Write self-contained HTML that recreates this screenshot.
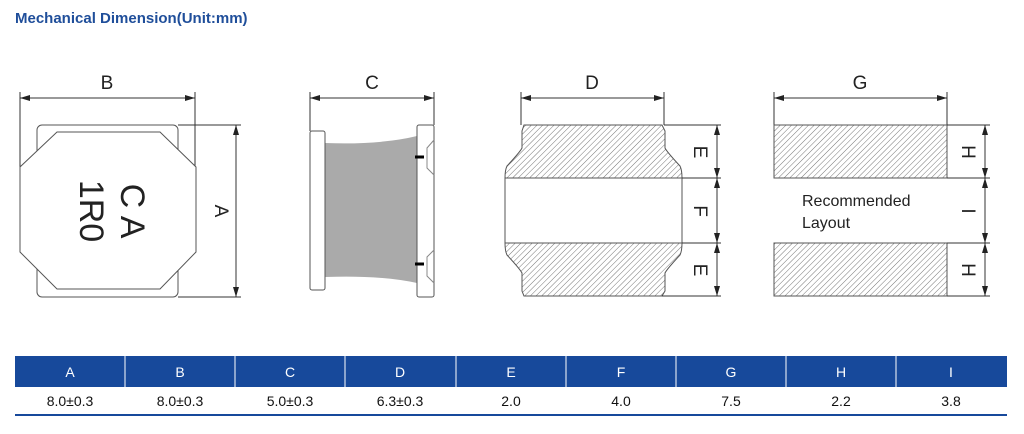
<!DOCTYPE html>
<html><head><meta charset="utf-8"><style>
body{margin:0;width:1024px;height:429px;background:#fff;overflow:hidden;font-family:"Liberation Sans",sans-serif}
</style></head><body>
<svg width="1024" height="429" viewBox="0 0 1024 429" xmlns="http://www.w3.org/2000/svg" font-family="Liberation Sans, sans-serif">
<defs>
<pattern id="h" width="4" height="4" patternUnits="userSpaceOnUse" patternTransform="rotate(45)">
<rect width="4" height="4" fill="#fff"/><line x1="0" y1="0" x2="0" y2="4" stroke="#777" stroke-width="1"/>
</pattern>
<marker id="a" viewBox="0 0 10 6" refX="10" refY="3" markerWidth="10" markerHeight="6" orient="auto-start-reverse" markerUnits="userSpaceOnUse"><path d="M0,0L10,3L0,6z" fill="#222"/></marker>
</defs>
<text x="15" y="23" font-size="15" font-weight="bold" fill="#1f4e9a">Mechanical Dimension(Unit:mm)</text>
<g stroke="#333" stroke-width="1" fill="none">
<line x1="20" y1="92" x2="20" y2="168"/><line x1="195" y1="92" x2="195" y2="168"/>
<line x1="20" y1="98" x2="195" y2="98" marker-start="url(#a)" marker-end="url(#a)"/>
<rect x="37" y="125" width="141" height="172" rx="5" stroke="#555"/>
<path d="M57,132H160L196,167V252L160,289H57L20,252V167Z" fill="#fff" stroke="#555"/>
<line x1="178" y1="125" x2="241" y2="125"/><line x1="178" y1="297" x2="241" y2="297"/>
<line x1="236" y1="125" x2="236" y2="297" marker-start="url(#a)" marker-end="url(#a)"/>
<line x1="310" y1="92" x2="310" y2="131"/><line x1="434" y1="92" x2="434" y2="125"/>
<line x1="310" y1="98" x2="434" y2="98" marker-start="url(#a)" marker-end="url(#a)"/>
<path d="M325,143Q380,145 417,136V283Q380,275 325,277Z" fill="#aaa" stroke="none"/>
<rect x="310" y="131" width="15" height="159" rx="2" fill="#fff" stroke="#555"/>
<rect x="417" y="125" width="17" height="172" rx="2" fill="#fff" stroke="#555"/>
<path d="M434,140L427,148V168L434,175" stroke="#888"/><path d="M434,250L427,257V276L434,283" stroke="#888"/>
<line x1="415" y1="157" x2="424" y2="157" stroke="#000" stroke-width="3"/>
<line x1="415" y1="264" x2="424" y2="264" stroke="#000" stroke-width="3"/>
<line x1="521" y1="92" x2="521" y2="125"/><line x1="664" y1="92" x2="664" y2="125"/>
<line x1="521" y1="98" x2="664" y2="98" marker-start="url(#a)" marker-end="url(#a)"/>
<path d="M524,125H662L665,131V148Q667,152 680,166Q682,170 682,178H505Q505,170 507,166Q520,152 522,148V131Z" fill="url(#h)" stroke="#555"/>
<rect x="505" y="178" width="177" height="65" fill="#fff" stroke="#555"/>
<path d="M505,243H682Q682,251 680,255Q667,269 665,273V291L662,296H524L522,291V273Q520,269 507,255Q505,251 505,243Z" fill="url(#h)" stroke="#555"/>
<line x1="664" y1="125" x2="721" y2="125"/><line x1="682" y1="178" x2="721" y2="178"/>
<line x1="682" y1="243" x2="721" y2="243"/><line x1="662" y1="296" x2="721" y2="296"/>
<line x1="717" y1="125" x2="717" y2="178" marker-start="url(#a)" marker-end="url(#a)"/>
<line x1="717" y1="178" x2="717" y2="243" marker-start="url(#a)" marker-end="url(#a)"/>
<line x1="717" y1="243" x2="717" y2="296" marker-start="url(#a)" marker-end="url(#a)"/>
<line x1="774" y1="92" x2="774" y2="125"/><line x1="947" y1="92" x2="947" y2="125"/>
<line x1="774" y1="98" x2="947" y2="98" marker-start="url(#a)" marker-end="url(#a)"/>
<rect x="774" y="125" width="173" height="53" fill="url(#h)" stroke="#555"/>
<rect x="774" y="243" width="173" height="53" fill="url(#h)" stroke="#555"/>
<line x1="947" y1="125" x2="990" y2="125"/><line x1="947" y1="178" x2="990" y2="178"/>
<line x1="947" y1="243" x2="990" y2="243"/><line x1="947" y1="296" x2="990" y2="296"/>
<line x1="985" y1="125" x2="985" y2="178" marker-start="url(#a)" marker-end="url(#a)"/>
<line x1="985" y1="178" x2="985" y2="243" marker-start="url(#a)" marker-end="url(#a)"/>
<line x1="985" y1="243" x2="985" y2="296" marker-start="url(#a)" marker-end="url(#a)"/>
</g>
<g fill="#222" font-size="19" text-anchor="middle">
<text x="107" y="89">B</text><text x="372" y="89">C</text><text x="592" y="89">D</text><text x="860" y="89">G</text>
<text transform="translate(215,211) rotate(90)">A</text>
<text transform="translate(694,152) rotate(90)">E</text>
<text transform="translate(694,211) rotate(90)">F</text>
<text transform="translate(694,270) rotate(90)">E</text>
<text transform="translate(962,152) rotate(90)">H</text>
<text transform="translate(962,211) rotate(90)">I</text>
<text transform="translate(962,270) rotate(90)">H</text>
<text transform="translate(121,211) rotate(90)" font-size="34">C A</text>
<text transform="translate(80,211) rotate(90)" font-size="34">1R0</text>
</g>
<text x="802" y="206" font-size="16" fill="#222">Recommended</text>
<text x="802" y="228" font-size="16" fill="#222">Layout</text>
<rect x="15" y="356" width="992" height="31" fill="#17499b"/>
<g stroke="#fff" stroke-width="1">
<line x1="125" y1="356" x2="125" y2="387"/><line x1="235" y1="356" x2="235" y2="387"/><line x1="345" y1="356" x2="345" y2="387"/><line x1="456" y1="356" x2="456" y2="387"/><line x1="566" y1="356" x2="566" y2="387"/><line x1="676" y1="356" x2="676" y2="387"/><line x1="786" y1="356" x2="786" y2="387"/><line x1="896" y1="356" x2="896" y2="387"/>
</g>
<rect x="15" y="414" width="992" height="2" fill="#17499b"/>
<g font-size="14" text-anchor="middle">
<g fill="#fff"><text x="70" y="377">A</text><text x="180" y="377">B</text><text x="290" y="377">C</text><text x="400" y="377">D</text><text x="511" y="377">E</text><text x="621" y="377">F</text><text x="731" y="377">G</text><text x="841" y="377">H</text><text x="951" y="377">I</text></g>
<g fill="#111"><text x="70" y="406">8.0±0.3</text><text x="180" y="406">8.0±0.3</text><text x="290" y="406">5.0±0.3</text><text x="400" y="406">6.3±0.3</text><text x="511" y="406">2.0</text><text x="621" y="406">4.0</text><text x="731" y="406">7.5</text><text x="841" y="406">2.2</text><text x="951" y="406">3.8</text></g>
</g>
</svg>
</body></html>
